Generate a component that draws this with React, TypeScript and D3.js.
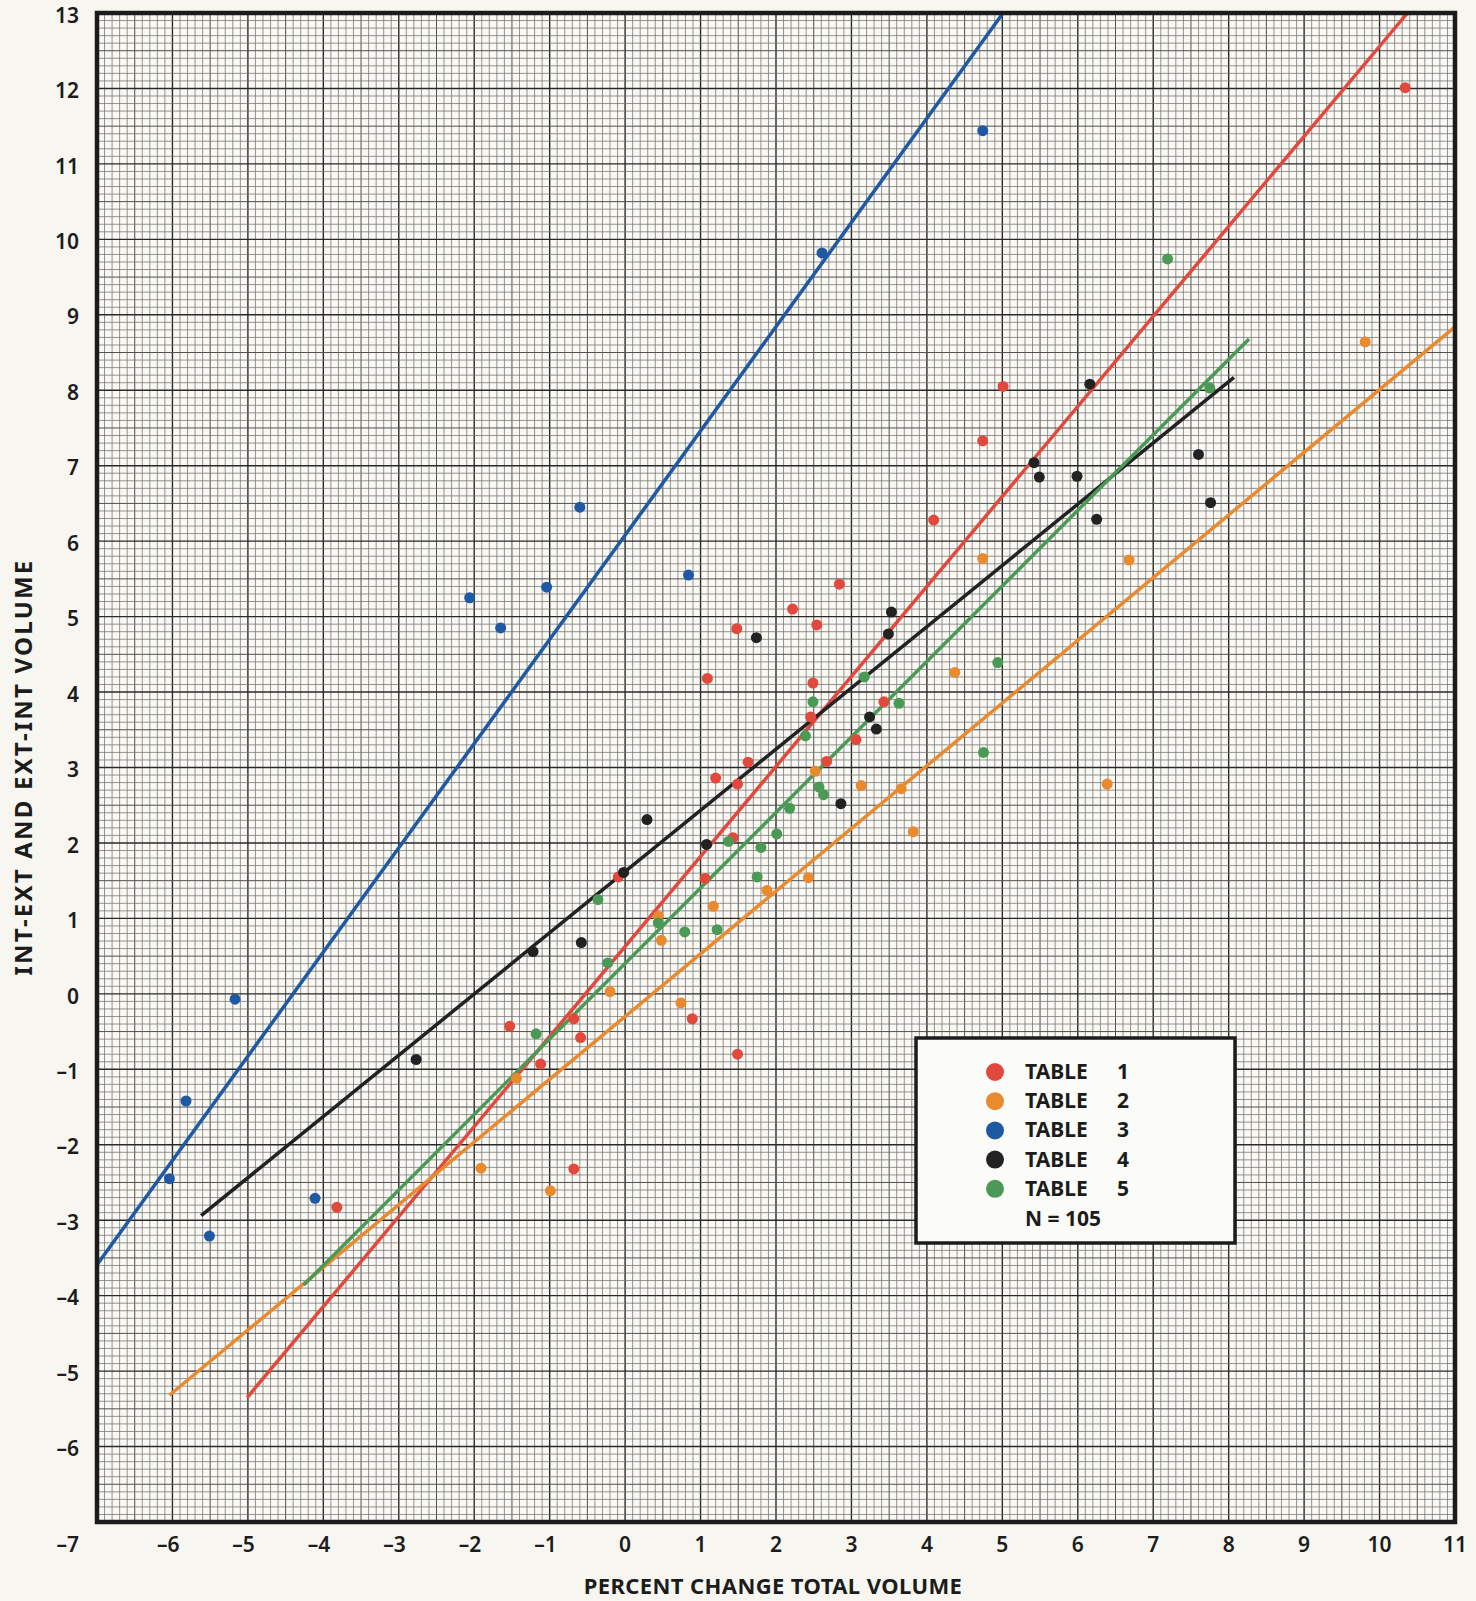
import React from 'react';
import * as d3 from 'd3';

// values
const xTicks = [-6, -5, -4, -3, -2, -1, 0, 1, 2, 3, 4, 5, 6, 7, 8, 9, 10, 11];
const yTicks = [-6, -5, -4, -3, -2, -1, 0, 1, 2, 3, 4, 5, 6, 7, 8, 9, 10, 11, 12, 13];

const table1 = [
  [10.34, 12.01], [5.01, 8.05], [4.74, 7.33], [4.09, 6.28], [2.84, 5.43], [2.22, 5.10],
  [2.54, 4.89], [1.48, 4.84], [1.09, 4.18], [2.49, 4.12], [3.43, 3.87], [2.46, 3.67],
  [3.06, 3.37], [2.67, 3.08], [1.63, 3.07], [1.20, 2.86], [1.49, 2.78], [1.43, 2.07],
  [1.06, 1.53], [-0.09, 1.55], [-1.53, -0.43], [-0.68, -0.33], [-0.59, -0.58],
  [-1.12, -0.93], [0.89, -0.33], [1.49, -0.80], [-0.68, -2.32], [-3.82, -2.83],
];
const table2 = [
  [9.81, 8.64], [4.74, 5.77], [6.68, 5.75], [4.37, 4.26], [2.52, 2.95], [3.13, 2.76],
  [3.66, 2.72], [6.39, 2.78], [3.82, 2.15], [2.43, 1.54], [1.88, 1.37], [1.17, 1.16],
  [0.44, 1.03], [0.48, 0.71], [-0.20, 0.03], [0.74, -0.12], [-1.44, -1.12],
  [-1.91, -2.31], [-0.99, -2.61],
];
const table3 = [
  [4.74, 11.44], [2.61, 9.82], [-0.60, 6.45], [0.84, 5.55], [-2.06, 5.25], [-1.04, 5.39],
  [-1.65, 4.85], [-5.17, -0.07], [-5.82, -1.42], [-6.04, -2.45], [-4.11, -2.71], [-5.51, -3.21],
];
const table4 = [
  [6.16, 8.08], [5.42, 7.04], [5.49, 6.85], [5.99, 6.86], [7.60, 7.15], [7.76, 6.51],
  [6.25, 6.29], [3.53, 5.06], [3.49, 4.77], [1.74, 4.72], [3.24, 3.67], [3.33, 3.51],
  [2.86, 2.52], [0.29, 2.31], [1.08, 1.98], [-0.02, 1.61], [-1.22, 0.56], [-0.58, 0.68],
  [-2.77, -0.87],
];
const table5 = [
  [7.19, 9.74], [7.75, 8.03], [4.94, 4.39], [4.75, 3.20], [3.17, 4.20], [3.63, 3.85],
  [2.49, 3.87], [2.39, 3.42], [2.57, 2.74], [2.63, 2.64], [2.18, 2.46], [2.01, 2.12],
  [1.80, 1.94], [1.37, 2.02], [1.75, 1.55], [1.22, 0.85], [0.79, 0.82], [0.44, 0.94],
  [-0.36, 1.25], [-0.23, 0.41], [-1.18, -0.53],
];

// fitted lines, as drawn: [start, end]
const line1 = [[-5.01, -5.35], [10.37, 13]];
const line2 = [[-6.04, -5.32], [11, 8.84]];
const line3 = [[-7, -3.59], [5.01, 13]];
const line4 = [[-5.62, -2.94], [8.07, 8.17]];
const line5 = [[-4.26, -3.86], [8.27, 8.68]];

const seriesNames = ['TABLE    1', 'TABLE    2', 'TABLE    3', 'TABLE    4', 'TABLE    5'];
const colors = ['#e2493d', '#ea8a2e', '#1f58a3', '#222222', '#4a9a55'];
const seriesPoints = [table1, table2, table3, table4, table5];
const seriesLines = [line1, line2, line3, line4, line5];

const W = 1476;
const H = 1601;
const font = '"Noto Sans", "DejaVu Sans", sans-serif';

export default function App() {
  const x = d3.scaleLinear().domain([-7, 11]).range([97, 1455]);
  const y = d3.scaleLinear().domain([-7, 13]).range([1522, 13]);
  const line = d3.line<number[]>().x(d => x(d[0])).y(d => y(d[1]));

  const minorX = d3.range(-70, 111).map(i => i / 10);
  const minorY = d3.range(-70, 131).map(i => i / 10);
  const gridColor = (i: number) => {
    const r = Math.round(i * 10);
    if (r % 10 === 0) return { stroke: '#2a2a2a', w: 1.4 };
    if (r % 5 === 0) return { stroke: '#505050', w: 1.0 };
    return { stroke: '#727272', w: 0.75 };
  };

  const fmt = (v: number) => (v < 0 ? '\u2013' + Math.abs(v) : String(v));

  return (
    <div style={{ position: 'absolute', left: 0, top: 0 }}>
      <svg width={W} height={H} style={{ display: 'block', background: '#f7f6f0' }}>
        <rect x={0} y={0} width={W} height={H} fill="#f7f6f0" />
        <rect x={x(-7)} y={y(13)} width={x(11) - x(-7)} height={y(-7) - y(13)} fill="#f9f8f3" />

        {/* graph paper */}
        <g>
          {minorX.map(v => {
            const g = gridColor(v);
            return <line key={'gx' + v} x1={x(v)} x2={x(v)} y1={y(13)} y2={y(-7)} stroke={g.stroke} strokeWidth={g.w} />;
          })}
          {minorY.map(v => {
            const g = gridColor(v);
            return <line key={'gy' + v} y1={y(v)} y2={y(v)} x1={x(-7)} x2={x(11)} stroke={g.stroke} strokeWidth={g.w} />;
          })}
        </g>

        {/* fitted lines */}
        <g fill="none" strokeWidth={3.5} strokeLinecap="butt">
          {seriesLines.map((l, i) => (
            <path key={'l' + i} d={line(l) || ''} stroke={colors[i]} />
          ))}
        </g>

        {/* points */}
        <g>
          {seriesPoints.map((pts, i) =>
            pts.map((p, j) => (
              <circle key={'p' + i + '-' + j} cx={x(p[0])} cy={y(p[1])} r={5.5} fill={colors[i]} />
            ))
          )}
        </g>

        {/* frame */}
        <rect x={x(-7)} y={y(13)} width={x(11) - x(-7)} height={y(-7) - y(13)} fill="none" stroke="#1c1c1c" strokeWidth={4.5} />

        {/* tick labels */}
        <g fontFamily={font} fontWeight={600} fontSize={21} fill="#1c1c1c">
          {yTicks.map(v => (
            <text key={'yt' + v} x={79} y={y(v) + 4} textAnchor="end" dominantBaseline="middle">{fmt(v)}</text>
          ))}
          <text x={79} y={1552} textAnchor="end">{fmt(-7)}</text>
          {xTicks.map(v => (
            <text key={'xt' + v} x={v < 0 ? x(v) + 7 : x(v)} y={1552} textAnchor={v < 0 ? 'end' : 'middle'}>{fmt(v)}</text>
          ))}
        </g>

        {/* axis titles */}
        <text x={773} y={1594} textAnchor="middle" fontFamily={font} fontWeight={700} fontSize={22} letterSpacing={0.4} fill="#1c1c1c">
          PERCENT CHANGE TOTAL VOLUME
        </text>
        <text transform={`translate(32, ${767}) rotate(-90)`} textAnchor="middle" fontFamily={font} fontWeight={700} fontSize={24} letterSpacing={2.2} fill="#1c1c1c">
          INT-EXT AND EXT-INT VOLUME
        </text>

        {/* legend */}
        <g>
          <rect x={916} y={1038} width={319} height={205} fill="#fbfbf8" stroke="#1c1c1c" strokeWidth={3.5} />
          {seriesNames.map((name, i) => {
            const cy = 1072 + i * 29.2;
            const parts = name.split(/\s+/);
            return (
              <g key={'lg' + i}>
                <circle cx={995} cy={cy} r={9} fill={colors[i]} />
                <text x={1025} y={cy + 7} fontFamily={font} fontWeight={700} fontSize={21} fill="#1c1c1c">{parts[0]}</text>
                <text x={1117} y={cy + 7} fontFamily={font} fontWeight={700} fontSize={21} fill="#1c1c1c">{parts[1]}</text>
              </g>
            );
          })}
          <text x={1025} y={1226} fontFamily={font} fontWeight={700} fontSize={21} fill="#1c1c1c">N = 105</text>
        </g>
      </svg>
    </div>
  );
}
